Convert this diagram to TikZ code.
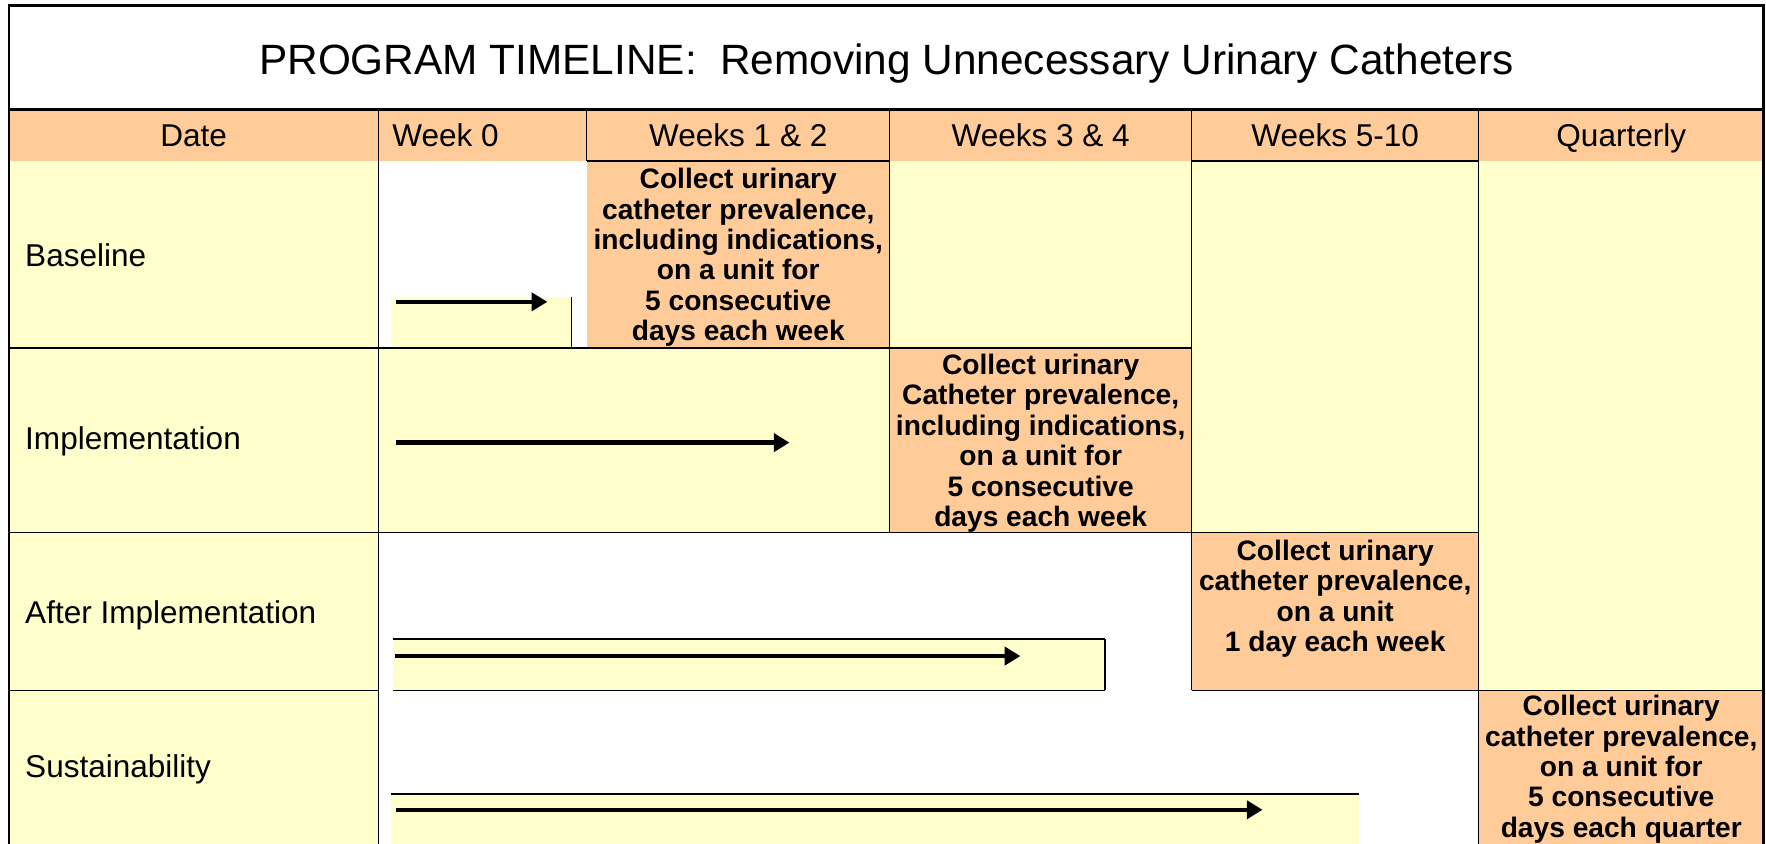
\documentclass[tikz,border=0pt]{standalone}
\usepackage{fontspec}
\setmainfont{Liberation Sans}
\usetikzlibrary{arrows.meta}
\definecolor{orng}{RGB}{255,204,153}
\definecolor{ylw}{RGB}{255,255,204}
\begin{document}
\begin{tikzpicture}[x=0.5pt,y=-0.5pt,
  rule/.style={draw=black,line width=0.6pt},
  boldrule/.style={draw=black,line width=1pt},
  framerule/.style={draw=black,line width=1.2pt},
  hdr/.style={inner sep=0pt,font=\fontsize{14}{16}\selectfont},
  rowlab/.style={inner sep=0pt,anchor=west,font=\fontsize{14}{16}\selectfont},
  celltxt/.style={inner sep=0pt,anchor=north,align=center,font=\bfseries\fontsize{12.5}{13.5}\selectfont},
  arr/.style={draw=black,line width=2pt,-{Triangle[length=7pt,width=8pt]}}]
\useasboundingbox (0,0) rectangle (1568,748.5);
\clip (0,0) rectangle (1568,748.5);
\fill[white] (0,0) rectangle (1568,748.5);
% fills
\fill[orng] (8,97) rectangle (1566,143);
\fill[ylw] (8,143) rectangle (336,760);
\fill[ylw] (347.5,263.5) rectangle (507.5,309);
\fill[orng] (521,143) rectangle (790,309);
\fill[ylw] (790,143) rectangle (1058,309);
\fill[ylw] (1058,143) rectangle (1313,473);
\fill[ylw] (1313,143) rectangle (1566,613);
\fill[ylw] (336,309) rectangle (790,473);
\fill[orng] (790,309) rectangle (1058,473);
\fill[ylw] (348.5,567.5) rectangle (981,613);
\fill[orng] (1058,473) rectangle (1313,613);
\fill[ylw] (347.5,705) rectangle (1207,760);
\fill[orng] (1313,613) rectangle (1566,760);
% vertical rules
\draw[rule] (336,97) -- (336,760);
\draw[rule] (521,97) -- (521,143);
\draw[rule] (790,97) -- (790,473);
\draw[rule] (1058,97) -- (1058,613);
\draw[rule] (1313,97) -- (1313,760);
\draw[rule] (507.5,263.5) -- (507.5,309);
\draw[rule] (981,567.5) -- (981,613);
% horizontal rules
\draw[boldrule] (521,143) -- (790,143);
\draw[boldrule] (1058,143) -- (1313,143);
\draw[rule] (8,309) -- (1058,309);
\draw[rule] (8,473) -- (1313,473);
\draw[rule] (8,613) -- (336,613);
\draw[rule] (348.5,613) -- (981,613);
\draw[rule] (1058,613) -- (1566,613);
\draw[rule] (348.5,567.5) -- (981,567.5);
\draw[rule] (347.5,705) -- (1207,705);
% frame
\draw[framerule] (8,97) -- (1566,97);
\draw[framerule] (8,800) -- (8,5) -- (1566,5) -- (1566,800);
% title
\node[inner sep=0pt,anchor=base,font=\fontsize{18.8}{22}\selectfont] (title) at (787,66) {PROGRAM TIMELINE:\ \ Removing Unnecessary Urinary Catheters};
% header
\node[hdr,anchor=base] (hdate) at (172,130) {Date};
\node[hdr,anchor=base west] (hw0) at (348,130) {Week 0};
\node[hdr,anchor=base] (hw12) at (655.5,130) {Weeks 1 \& 2};
\node[hdr,anchor=base] (hw34) at (924,130) {Weeks 3 \& 4};
\node[hdr,anchor=base] (hw510) at (1185.5,130) {Weeks 5-10};
\node[hdr,anchor=base] (hq) at (1439.5,130) {Quarterly};
% row labels
\node[rowlab] (lbase) at (22,227) {Baseline};
\node[rowlab] (limpl) at (22,392) {Implementation};
\node[rowlab] (lafter) at (22,546) {After Implementation};
\node[rowlab] (lsust) at (22,683) {Sustainability};
% cell texts
\node[celltxt] (c1) at (655.5,149) {Collect urinary\\catheter prevalence,\\including indications,\\on a unit for\\5 consecutive\\days each week};
\node[celltxt] (c2) at (924,314) {Collect urinary\\Catheter prevalence,\\including indications,\\on a unit for\\5 consecutive\\days each week};
\node[celltxt] (c3) at (1185.5,479) {Collect urinary\\catheter prevalence,\\on a unit\\1 day each week};
\node[celltxt] (c4) at (1439.5,617) {Collect urinary\\catheter prevalence,\\on a unit for\\5 consecutive\\days each quarter};
% arrows
\coordinate (a1s) at (352,268); \coordinate (a1e) at (486,268);
\coordinate (a2s) at (352,393); \coordinate (a2e) at (701,393);
\coordinate (a3s) at (351,582.5); \coordinate (a3e) at (906,582.5);
\coordinate (a4s) at (352,719); \coordinate (a4e) at (1121,719);
\draw[arr] (a1s) -- (a1e);
\draw[arr] (a2s) -- (a2e);
\draw[arr] (a3s) -- (a3e);
\draw[arr] (a4s) -- (a4e);
\end{tikzpicture}
\end{document}
